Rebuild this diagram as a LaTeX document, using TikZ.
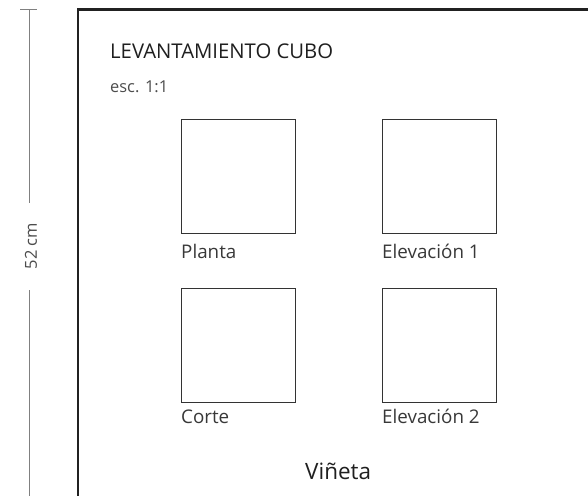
\documentclass[tikz,border=0pt]{standalone}
\usepackage{fontspec}
\setmainfont{Open Sans}
\begin{document}
\begin{tikzpicture}[x=1pt,y=-1pt,
  frameline/.style={draw=black!87,line width=2.6pt},
  dimline/.style={draw=black!50,line width=1pt},
  viewbox/.style={draw=black!80,line width=1.1pt,minimum width=114pt,minimum height=114pt,inner sep=0pt,anchor=north west},
  lbl/.style={anchor=base west,inner sep=0pt,text=black!78,font=\fontsize{18.8}{20}\selectfont},
  ttl/.style={anchor=base west,inner sep=0pt,text=black!88,font=\fontsize{20.3}{22}\selectfont}
]
\useasboundingbox (0,0) rectangle (588,495);
% dimension line
\coordinate (d0) at (29,10);
\coordinate (d1) at (29,203);
\coordinate (d2) at (29,290);
\coordinate (d3) at (29,496);
\coordinate (t0) at (20,10);
\coordinate (t1) at (37,10);
\draw[dimline] (d0) -- (d1);
\draw[dimline] (d2) -- (d3);
\draw[dimline] (t0) -- (t1);
\node[rotate=90,inner sep=0pt,text=black!70,font=\fontsize{16.5}{18}\selectfont] (dim) at (31,246) {52 cm};
% frame
\coordinate (f0) at (78,497);
\coordinate (f1) at (78,9.5);
\coordinate (f2) at (590,9.5);
\draw[frameline] (f0) -- (f1) -- (f2);
% title
\node[ttl] (title) at (110,59) {LEVANTAMIENTO CUBO};
\node[lbl,text=black!70,font=\fontsize{16.4}{18}\selectfont] (esc) at (110,92) {esc. 1:1};
% boxes
\node[viewbox] (b1) at (181,119) {};
\node[viewbox] (b2) at (382,119) {};
\node[viewbox] (b3) at (181,288) {};
\node[viewbox] (b4) at (382,288) {};
\node[lbl] (l1) at (181,258) {Planta};
\node[lbl] (l2) at (382,258) {Elevación 1};
\node[lbl] (l3) at (181,423) {Corte};
\node[lbl] (l4) at (382,423) {Elevación 2};
\node[ttl,font=\fontsize{22.5}{24}\selectfont] (vin) at (305,479) {Viñeta};
\end{tikzpicture}
\end{document}
